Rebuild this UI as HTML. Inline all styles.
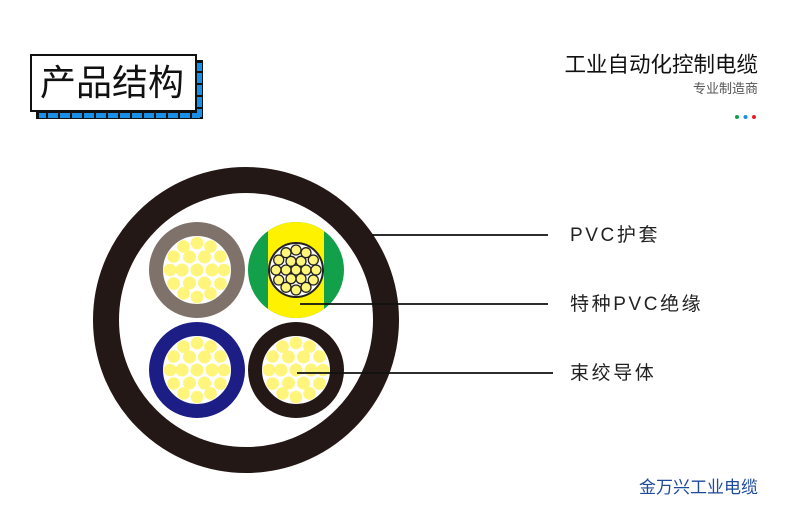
<!DOCTYPE html>
<html><head><meta charset="utf-8"><style>
body{margin:0;width:790px;height:513px;background:#fff;position:relative;overflow:hidden;font-family:"Liberation Sans","Noto Sans CJK SC",sans-serif}
.t{position:absolute;white-space:nowrap}
</style></head><body>
<svg width="790" height="513" style="position:absolute;left:0;top:0">
<defs>
<g id="s" fill="#fff57a">
<circle cx="0" cy="0" r="6.5"/>
<circle cx="15" cy="0" r="6.5"/><circle cx="-15" cy="0" r="6.5"/>
<circle cx="7.5" cy="13" r="6.5"/><circle cx="-7.5" cy="13" r="6.5"/>
<circle cx="7.5" cy="-13" r="6.5"/><circle cx="-7.5" cy="-13" r="6.5"/>
<circle cx="27" cy="0" r="6.3"/><circle cx="-27" cy="0" r="6.3"/>
<circle cx="13.5" cy="23.4" r="6.3"/><circle cx="-13.5" cy="23.4" r="6.3"/>
<circle cx="13.5" cy="-23.4" r="6.3"/><circle cx="-13.5" cy="-23.4" r="6.3"/>
<circle cx="23.4" cy="13.5" r="6.3"/><circle cx="-23.4" cy="13.5" r="6.3"/>
<circle cx="23.4" cy="-13.5" r="6.3"/><circle cx="-23.4" cy="-13.5" r="6.3"/>
<circle cx="0" cy="27" r="6.3"/><circle cx="0" cy="-27" r="6.3"/>
</g>
<g id="c" fill="#fff57a" stroke="#222" stroke-width="1.3">
<circle cx="0" cy="0" r="5"/>
<circle cx="10" cy="0" r="5"/><circle cx="-10" cy="0" r="5"/>
<circle cx="5" cy="8.7" r="5"/><circle cx="-5" cy="8.7" r="5"/>
<circle cx="5" cy="-8.7" r="5"/><circle cx="-5" cy="-8.7" r="5"/>
<circle cx="20" cy="0" r="5"/><circle cx="-20" cy="0" r="5"/>
<circle cx="10" cy="17.3" r="5"/><circle cx="-10" cy="17.3" r="5"/>
<circle cx="10" cy="-17.3" r="5"/><circle cx="-10" cy="-17.3" r="5"/>
<circle cx="17.3" cy="10" r="5"/><circle cx="-17.3" cy="10" r="5"/>
<circle cx="17.3" cy="-10" r="5"/><circle cx="-17.3" cy="-10" r="5"/>
<circle cx="0" cy="20" r="5"/><circle cx="0" cy="-20" r="5"/>
</g>
<clipPath id="gy"><circle cx="296" cy="270" r="48"/></clipPath>
</defs>
<rect x="36" y="60" width="167" height="59" fill="#111"/>
<g fill="#1a8fe8">
<rect x="39" y="113" width="161" height="5"/>
<rect x="197" y="63" width="5" height="54"/>
</g>
<g stroke="#111" stroke-width="2">
<line x1="47" y1="112" x2="47" y2="119"/><line x1="59" y1="112" x2="59" y2="119"/><line x1="71" y1="112" x2="71" y2="119"/><line x1="83" y1="112" x2="83" y2="119"/><line x1="95" y1="112" x2="95" y2="119"/><line x1="107" y1="112" x2="107" y2="119"/><line x1="119" y1="112" x2="119" y2="119"/><line x1="131" y1="112" x2="131" y2="119"/><line x1="143" y1="112" x2="143" y2="119"/><line x1="155" y1="112" x2="155" y2="119"/><line x1="167" y1="112" x2="167" y2="119"/><line x1="179" y1="112" x2="179" y2="119"/><line x1="191" y1="112" x2="191" y2="119"/>
<line x1="196" y1="72" x2="203" y2="72"/><line x1="196" y1="84" x2="203" y2="84"/><line x1="196" y1="96" x2="203" y2="96"/><line x1="196" y1="108" x2="203" y2="108"/>
</g>
<rect x="31" y="55" width="165" height="56" fill="#fff" stroke="#111" stroke-width="2"/>
<circle cx="246" cy="320" r="140" fill="#fff" stroke="#231815" stroke-width="26"/>
<circle cx="197" cy="270" r="41" fill="#fff" stroke="#7f726a" stroke-width="14"/>
<use href="#s" x="197" y="270"/>
<circle cx="197" cy="370" r="41" fill="#fff" stroke="#1c1e86" stroke-width="14"/>
<use href="#s" x="197" y="370"/>
<circle cx="296" cy="370" r="41" fill="#fff" stroke="#231815" stroke-width="14"/>
<use href="#s" x="296" y="370"/>
<g clip-path="url(#gy)">
<rect x="240" y="220" width="112" height="100" fill="#13a04a"/>
<rect x="268" y="220" width="56" height="100" fill="#fff200"/>
</g>
<circle cx="296" cy="270" r="27" fill="#fff" stroke="#222" stroke-width="2"/>
<use href="#c" x="296" y="270"/>
<g stroke="#111" stroke-width="1.8">
<line x1="372" y1="235" x2="548" y2="235"/>
<line x1="300" y1="304" x2="548" y2="304"/>
<line x1="297" y1="373" x2="553" y2="373"/>
</g>
<circle cx="737" cy="117" r="2" fill="#13a04a"/>
<circle cx="745.5" cy="117" r="2" fill="#1a8fe8"/>
<circle cx="754" cy="117" r="2" fill="#e8202a"/>
</svg>
<div class="t" style="left:40px;top:61px;font-size:36px;color:#111;line-height:44px">产品结构</div>
<div class="t" style="right:32px;top:51px;font-size:21.5px;color:#111;line-height:28px">工业自动化控制电缆</div>
<div class="t" style="right:32px;top:80px;font-size:13px;color:#555;line-height:18px">专业制造商</div>
<div class="t" style="left:570px;top:224px;font-size:19px;color:#222;letter-spacing:2.6px;line-height:24px">PVC护套</div>
<div class="t" style="left:570px;top:293px;font-size:19px;color:#222;letter-spacing:2.6px;line-height:24px">特种PVC绝缘</div>
<div class="t" style="left:570px;top:362px;font-size:19px;color:#222;letter-spacing:2.6px;line-height:24px">束绞导体</div>
<div class="t" style="right:32px;top:477px;font-size:17px;color:#1d4a9c;line-height:22px">金万兴工业电缆</div>
</body></html>
